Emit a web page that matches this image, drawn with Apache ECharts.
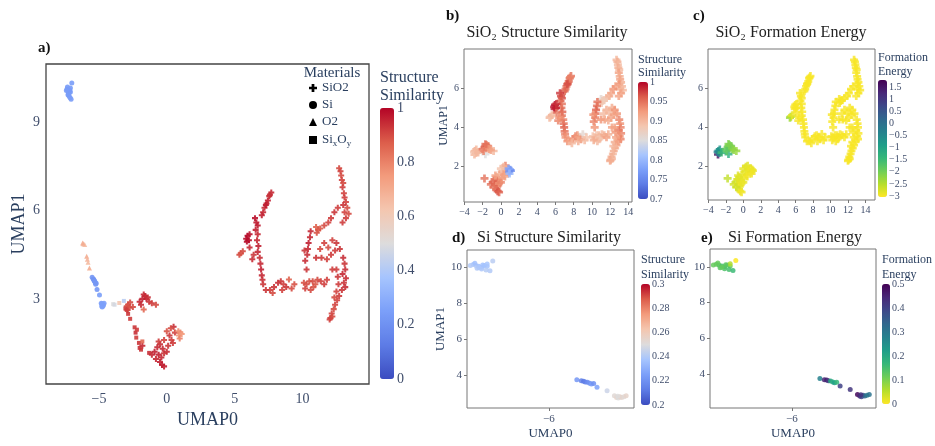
<!DOCTYPE html>
<html><head><meta charset="utf-8">
<script src="https://cdn.jsdelivr.net/npm/echarts@6/dist/echarts.min.js"></script>
<style>html,body{margin:0;padding:0;background:#fff}#c{width:935px;height:446px}</style>
</head><body><div id="c"></div>
<script>
// ---------------- DATA ----------------
// rows: [UMAP0, UMAP1, structureSimilarity, formationEnergy]
const sio2Points = [
  [-1.8,1.4,0.95,-2.6],[-1.1,1.1,0.95,-2.7],[-0.9,1.2,0.96,-2.7],[-0.7,1.35,0.95,-2.8],[-0.5,1.45,0.94,-2.8],
  [-0.3,1.3,0.95,-2.8],[-0.6,1.1,0.96,-2.85],[-0.4,1.0,0.95,-2.9],[-0.2,1.15,0.93,-2.9],[-0.5,0.85,0.96,-2.8],
  [-0.35,0.75,0.97,-2.9],[-0.2,0.7,0.96,-2.95],[-0.8,0.95,0.95,-2.7],[0.0,1.2,0.94,-2.9],[0.1,1.4,0.93,-2.9],
  [-0.6,1.55,0.92,-2.8],[-0.2,1.6,0.91,-2.85],[0.2,1.75,0.93,-2.9],[0.35,1.6,0.92,-2.9],[0.5,2.05,0.94,-2.8],
  [0.3,2.0,0.9,-2.85],[0.6,1.85,0.91,-2.9],[0.45,1.5,0.92,-2.95],[0.0,1.9,0.89,-2.85],
  [0.9,1.75,0.76,-2.9],[1.0,1.85,0.77,-2.95],[1.1,1.8,0.75,-2.9],[0.85,1.9,0.78,-2.9],[0.95,1.65,0.8,-2.95],
  [-2.9,2.62,0.9,1.6],[-2.85,2.8,0.91,-0.5],[-2.75,2.7,0.9,-0.6],[-2.95,2.75,0.89,-0.3],[-2.7,2.88,0.9,-0.8],
  [-2.5,2.72,0.9,-1.5],[-1.7,2.64,0.85,-1.2],[-2.0,2.9,0.95,-1.8],[-1.8,3.0,0.96,-2.0],[-1.6,3.1,0.95,-2.1],
  [-1.5,3.0,0.96,-2.0],[-1.4,3.05,0.94,-2.0],[-1.7,3.15,0.95,-2.1],[-1.3,2.9,0.93,-2.1],[-1.9,2.8,0.94,-1.8],
  [-0.8,2.8,0.9,-2.3],[-1.1,2.85,0.92,-2.2],
  [7.1,5.95,0.95,-3],[7.2,6.1,0.95,-3],[7.35,6.25,0.95,-3],[7.45,6.35,0.96,-3],[7.55,6.5,0.95,-3],
  [7.7,6.62,0.95,-3],[7.6,6.55,0.94,-3],[7.0,5.85,0.96,-3],[7.3,6.2,0.97,-3],
  [6.5,5.75,0.98,-3],[6.6,5.6,0.97,-3],[6.7,5.5,0.97,-3],[6.55,5.35,0.96,-3],[6.7,5.2,0.95,-3],
  [6.65,5.0,0.95,-3],[6.75,4.8,0.96,-3],[6.7,4.6,0.95,-3],[6.85,4.4,0.94,-3],[6.9,4.2,0.95,-3],
  [6.95,4.0,0.96,-3],[7.0,3.8,0.95,-3],[7.05,3.65,0.94,-3],[7.1,3.5,0.93,-3],
  [5.85,5.05,0.99,-3],[5.95,5.15,1.0,-3],[6.05,5.0,0.99,-3],[5.9,4.95,0.99,-3],[6.1,5.2,0.98,-3],
  [6.1,4.75,0.95,-3],[6.3,4.35,0.94,-3],[6.4,4.5,0.93,-3],
  [5.35,4.5,0.9,-2.3],[5.45,4.55,0.89,-2.5],[5.6,4.62,0.9,-2.9],
  [7.3,3.3,0.93,-3],[7.6,3.3,0.92,-3],[7.9,3.4,0.93,-3],[8.2,3.55,0.94,-3],[8.4,3.6,0.93,-3],
  [8.6,3.5,0.92,-3],[8.8,3.4,0.93,-3],[9.0,3.66,0.86,-3],[9.2,3.35,0.9,-3],[8.5,3.3,0.91,-3],
  [7.8,3.2,0.9,-3],[9.4,3.5,0.89,-3],
  [12.7,7.45,0.9,-3],[12.8,7.35,0.91,-3],[12.85,7.2,0.9,-3],[12.9,7.05,0.91,-3],[13.0,6.95,0.9,-3],
  [12.95,6.8,0.92,-3],[13.05,6.6,0.91,-3],
  [13.1,6.45,0.92,-3],[13.2,6.3,0.91,-3],[13.0,6.2,0.93,-3],[13.3,6.1,0.9,-3],[13.1,5.95,0.91,-3],
  [13.4,5.9,0.9,-3],[13.2,5.75,0.92,-3],[12.95,5.6,0.92,-3],
  [12.6,6.1,0.92,-3],[12.35,5.95,0.93,-3],[12.1,5.75,0.92,-3],[11.9,5.6,0.91,-3],[11.6,5.5,0.9,-3],
  [11.0,5.45,0.86,-3],[11.15,5.35,0.88,-3],[11.05,5.25,0.89,-3],[11.3,5.4,0.88,-3],
  [10.6,5.3,0.95,-3],[10.55,5.1,0.95,-3],[10.45,4.9,0.96,-3],[10.4,4.7,0.95,-3],[10.35,4.5,0.94,-3],
  [10.15,4.65,0.93,-3],[10.2,4.3,0.94,-3],[10.3,4.0,0.93,-3],
  [11.0,4.4,0.93,-3],[11.4,4.4,0.92,-3],[11.8,4.35,0.91,-3],[12.1,4.5,0.92,-3],[11.6,4.9,0.91,-3],
  [11.9,4.75,0.9,-3],[12.2,5.0,0.91,-3],[12.5,4.9,0.93,-3],[12.75,4.7,0.93,-3],[12.4,4.65,0.92,-3],
  [11.3,4.7,0.9,-3],
  [13.0,4.4,0.94,-3],[13.1,4.2,0.93,-3],[13.15,4.0,0.94,-3],[12.95,3.85,0.95,-3],[13.2,3.7,0.94,-3],
  [13.05,3.55,0.93,-3],[13.15,3.4,0.94,-3],[12.9,3.3,0.93,-3],
  [12.5,4.0,0.92,-3],[12.6,3.75,0.93,-3],[12.65,3.5,0.92,-3],[12.5,3.25,0.91,-3],[12.2,4.0,0.92,-3],
  [10.1,3.55,0.89,-3],[10.3,3.5,0.9,-3],[10.5,3.6,0.89,-3],[10.75,3.6,0.9,-3],[10.95,3.5,0.88,-3],
  [11.1,3.65,0.9,-3],[11.35,3.6,0.91,-3],[11.6,3.5,0.92,-3],[11.8,3.65,0.91,-3],[10.8,3.4,0.89,-3],
  [10.6,3.3,0.9,-3],[10.2,3.35,0.91,-3],
  [12.7,3.1,0.92,-3],[12.55,2.95,0.91,-3],[12.4,2.8,0.91,-3],[12.3,2.65,0.9,-3],[12.15,2.5,0.91,-3],
  [12.05,2.35,0.92,-3],[12.2,2.4,0.9,-3],[12.0,2.3,0.91,-3],[12.35,3.05,0.9,-3]
];
const siPoints = [
  [-7.35,10.15,0.238,0.12],[-7.3,10.1,0.240,0.13],[-7.25,10.05,0.236,0.15],[-7.2,10.0,0.238,0.14],
  [-7.28,9.95,0.240,0.13],[-7.15,10.1,0.235,0.12],[-7.1,10.05,0.237,0.11],[-7.2,9.9,0.239,0.14],
  [-7.12,9.85,0.241,0.15],[-7.05,9.8,0.240,0.16],[-7.32,10.22,0.236,0.12],[-7.1,10.18,0.238,0.06],
  [-7.0,10.35,0.242,0.0],[-7.18,10.12,0.237,0.13],[-7.25,9.98,0.239,0.12],[-7.4,10.1,0.24,0.12],
  [-5.5,3.74,0.222,0.28],[-5.42,3.68,0.215,0.45],[-5.38,3.66,0.212,0.46],[-5.35,3.62,0.214,0.42],
  [-5.31,3.6,0.218,0.2],[-5.27,3.55,0.22,0.19],[-5.24,3.5,0.224,0.22],[-5.2,3.53,0.22,0.17],
  [-5.14,3.32,0.226,0.4],[-4.96,3.13,0.246,0.42],[-4.83,2.85,0.252,0.49],[-4.79,2.76,0.255,0.45],
  [-4.76,2.72,0.25,0.4],[-4.73,2.8,0.256,0.36],[-4.7,2.76,0.254,0.34],[-4.66,2.8,0.252,0.3],
  [-4.62,2.85,0.255,0.31],[-4.77,2.83,0.25,0.43]
];
// rows: [UMAP0, UMAP1, structureSimilarity]
const o2Points = [
  [-6.15,4.88,0.68],[-6.05,4.85,0.66],[-6.2,4.9,0.7],[-5.9,4.45,0.7],[-5.85,4.35,0.68],[-5.8,4.25,0.66],[-5.7,4.05,0.7]
];
const sixoyPoints = [
  [-3.95,2.82,0.5],[-3.85,2.8,0.48],[-3.5,2.86,0.62],[-3.16,2.93,0.42],[-3.05,2.67,0.92],[-2.95,2.62,0.92],
  [-2.85,2.49,0.93],[-2.7,2.32,0.92],[-2.37,2.03,0.93],[-2.3,1.85,0.94],[-2.25,1.68,0.92],[-2.05,1.5,0.93],
  [-2.0,1.33,0.94],[-1.9,1.27,0.93],[-1.8,1.55,0.85],[-1.3,1.16,0.94],[-2.2,1.95,0.92]
];
const materials = ['SiO2','Si','O2','SixOy'];
const ticksA_x = [-5,0,5,10], ticksA_y = [3,6,9];
const ticksBC_x = [-4,-2,0,2,4,6,8,10,12,14], ticksBC_y = [2,4,6];
const ticksDE_x = [-6], ticksDE_y = [4,6,8,10];
const cbTicksA = [0,0.2,0.4,0.6,0.8,1];
const cbTicksB = [0.7,0.75,0.8,0.85,0.9,0.95,1];
const cbTicksC = [-3,-2.5,-2,-1.5,-1,-0.5,0,0.5,1,1.5];
const cbTicksD = [0.2,0.22,0.24,0.26,0.28,0.3];
const cbTicksE = [0,0.1,0.2,0.3,0.4,0.5];

// ---------------- STYLE ----------------
const FF = '"Liberation Serif","DejaVu Serif",serif';
const TICK = '#3f4d6b', NAME = '#2a3f5f';
const coolwarm = ['#3b4cc0','#5d7ce6','#7b9ff9','#a6c4fe','#dddcdc','#f4c6af','#f39b7c','#dc5d4a','#b40426'];
const viridisR = ['#fde725','#b5de2b','#6ece58','#35b779','#1f9e89','#26828e','#31688e','#3e4989','#482878','#440154'];
const plus = 'path://M33,0H67V33H100V67H67V100H33V67H0V33H33Z';
const fmt = v => String(+v.toFixed(2)).replace('-', '\u2212');

const grids = [
  {left:46, top:64, width:323, height:320, show:true, borderColor:'#444', borderWidth:1.3},
  {left:464, top:49, width:168, height:153, show:true, borderColor:'#777', borderWidth:1},
  {left:708, top:49, width:167, height:151, show:true, borderColor:'#777', borderWidth:1},
  {left:467, top:250, width:167, height:158, show:true, borderColor:'#777', borderWidth:1},
  {left:710, top:249, width:166, height:159, show:true, borderColor:'#777', borderWidth:1},
  {left:380, top:108, width:14, height:271},
  {left:638, top:82, width:10, height:117},
  {left:878, top:80, width:9, height:117},
  {left:641, top:284, width:9, height:121},
  {left:882, top:284, width:8, height:120}
];
function ax(gi, min, max, ticks, size, margin, tick, extra) {
  return Object.assign({
    type:'value', gridIndex:gi, min, max,
    axisLine:{show:false, onZero:false}, splitLine:{show:false},
    axisTick:{show:tick, customValues:ticks, length:3, lineStyle:{color:'#777'}},
    axisLabel:{customValues:ticks, formatter:fmt, color:TICK, fontFamily:FF, fontSize:size, margin}
  }, extra || {});
}
const nameStyle = (s) => ({color:NAME, fontFamily:FF, fontSize:s});
const xAxes = [
  ax(0,-8.9,14.9,ticksA_x,14,8,false,{name:'UMAP0', nameLocation:'middle', nameGap:25, nameTextStyle:nameStyle(18)}),
  ax(1,-4.05,14.4,ticksBC_x,10,5,true),
  ax(2,-4.05,15.1,ticksBC_x,10,5,true),
  ax(3,-7.46,-4.48,ticksDE_x,11,6,true,{name:'UMAP0', nameLocation:'middle', nameGap:19, nameTextStyle:nameStyle(13)}),
  ax(4,-7.46,-4.5,ticksDE_x,11,6,true,{name:'UMAP0', nameLocation:'middle', nameGap:19, nameTextStyle:nameStyle(13)}),
  {type:'value', gridIndex:5, show:false, min:0, max:1},
  {type:'value', gridIndex:6, show:false, min:0, max:1},
  {type:'value', gridIndex:7, show:false, min:0, max:1},
  {type:'value', gridIndex:8, show:false, min:0, max:1},
  {type:'value', gridIndex:9, show:false, min:0, max:1}
];
const yAxes = [
  ax(0,0.1,11,ticksA_y,14,6,false,{name:'UMAP1', nameLocation:'middle', nameGap:18, nameTextStyle:nameStyle(18)}),
  ax(1,0.2,8,ticksBC_y,10,5,true,{name:'UMAP1', nameLocation:'middle', nameGap:11, nameTextStyle:nameStyle(12)}),
  ax(2,0.3,8,ticksBC_y,10,5,true),
  ax(3,2.17,10.96,ticksDE_y,11,5,true,{name:'UMAP1', nameLocation:'middle', nameGap:18, nameTextStyle:nameStyle(13)}),
  ax(4,2.09,11.0,ticksDE_y,11,5,true),
  ax(5,0,1,cbTicksA,14,3,false,{position:'right'}),
  ax(6,0.7,1,cbTicksB,10,2,false,{position:'right'}),
  ax(7,-3.04,1.79,cbTicksC,10,2,false,{position:'right'}),
  ax(8,0.2,0.3,cbTicksD,10,2,false,{position:'right'}),
  ax(9,0,0.5,cbTicksE,10,2,false,{position:'right'})
];
function sc(name, data, gi, symbol, size, op) {
  return {type:'scatter', name, data, xAxisIndex:gi, yAxisIndex:gi, symbol, symbolSize:size,
    encode:{x:0,y:1}, itemStyle:{opacity:op}, silent:true, animation:false};
}
const series = [
  sc('SiO2', sio2Points, 0, plus, 6, 0.9),
  sc('Si', siPoints, 0, 'circle', 5, 0.9),
  sc('O2', o2Points, 0, 'triangle', 5, 0.9),
  sc('SixOy', sixoyPoints, 0, 'rect', 4, 0.9),
  sc('SiO2 sim', sio2Points, 1, plus, 8, 0.8),
  sc('SiO2 energy', sio2Points, 2, plus, 8, 0.8),
  sc('Si sim', siPoints, 3, 'circle', 5, 0.85),
  sc('Si energy', siPoints, 4, 'circle', 5, 0.85)
];
function vm(si, dim, min, max, colors, g) {
  return {type:'continuous', seriesIndex:si, dimension:dim, min, max, calculable:false, padding:0,
    orient:'vertical', left:g.left, top:g.top, itemWidth:g.width, itemHeight:g.height,
    inRange:{color:colors}, hoverLink:false};
}
const visualMaps = [
  vm([0,1,2,3],2,0,1,coolwarm,grids[5]),
  vm(4,2,0.7,1,coolwarm,grids[6]),
  vm(5,3,-3.04,1.79,viridisR,grids[7]),
  vm(6,2,0.2,0.3,coolwarm,grids[8]),
  vm(7,3,0,0.5,viridisR,grids[9])
];
function txt(text, x, y, size, opts) {
  opts = opts || {};
  return {type:'text', x, y, silent:true, style:Object.assign({text, fontFamily:FF, fontSize:size,
    fontWeight: opts.bold ? 'bold' : 'normal', fill: opts.fill || NAME,
    textAlign: opts.align || 'left', textVerticalAlign:'middle'}, opts.style || {})};
}
const graphics = [
  txt('a)', 38, 48, 15, {bold:true, fill:'#111'}),
  txt('b)', 446, 16, 15, {bold:true, fill:'#111'}),
  txt('c)', 693, 16, 15, {bold:true, fill:'#111'}),
  txt('d)', 452, 238, 15, {bold:true, fill:'#111'}),
  txt('e)', 701, 238, 15, {bold:true, fill:'#111'}),
  txt('SiO\u2082 Structure Similarity', 547, 33, 16, {align:'center', fill:'#222'}),
  txt('SiO\u2082 Formation Energy', 791, 33, 16, {align:'center', fill:'#222'}),
  txt('Si Structure Similarity', 549, 238, 16, {align:'center', fill:'#222'}),
  txt('Si Formation Energy', 795, 238, 16, {align:'center', fill:'#222'}),
  txt('Structure', 380, 78, 16), txt('Similarity', 380, 96, 16),
  txt('Structure', 638, 60, 12), txt('Similarity', 638, 73, 12),
  txt('Formation', 878, 58, 12), txt('Energy', 878, 72, 12),
  txt('Structure', 641, 260, 12), txt('Similarity', 641, 275, 12),
  txt('Formation', 882, 260, 12), txt('Energy', 882, 275, 12),
  txt('Materials', 332, 73, 15, {align:'center'})
];
const legend = {
  orient:'vertical', left:309, top:81, padding:0, itemGap:3, itemWidth:8, itemHeight:8,
  selectedMode:false,
  data:[
    {name:'SiO2', icon:plus, itemStyle:{color:'#000', opacity:1}},
    {name:'Si', icon:'circle', itemStyle:{color:'#000', opacity:1}},
    {name:'O2', icon:'triangle', itemStyle:{color:'#000', opacity:1}},
    {name:'SixOy', icon:'rect', itemStyle:{color:'#000', opacity:1}}
  ],
  formatter: n => n === 'SixOy' ? '{n|Si}{s|x}{n|O}{s|y}' : n,
  textStyle:{fontFamily:FF, fontSize:13, color:NAME, lineHeight:14, padding:[0,0,0,0],
    rich:{n:{fontFamily:FF, fontSize:13, color:NAME, lineHeight:14},
          s:{fontFamily:FF, fontSize:9, color:NAME, lineHeight:14, padding:[7,0,0,0]}}}
};
const chart = echarts.init(document.getElementById('c'), null, {renderer:'canvas'});
chart.setOption({
  animation:false, backgroundColor:'#fff',
  grid:grids, xAxis:xAxes, yAxis:yAxes, series, visualMap:visualMaps, legend, graphic:graphics
});
</script></body></html>
